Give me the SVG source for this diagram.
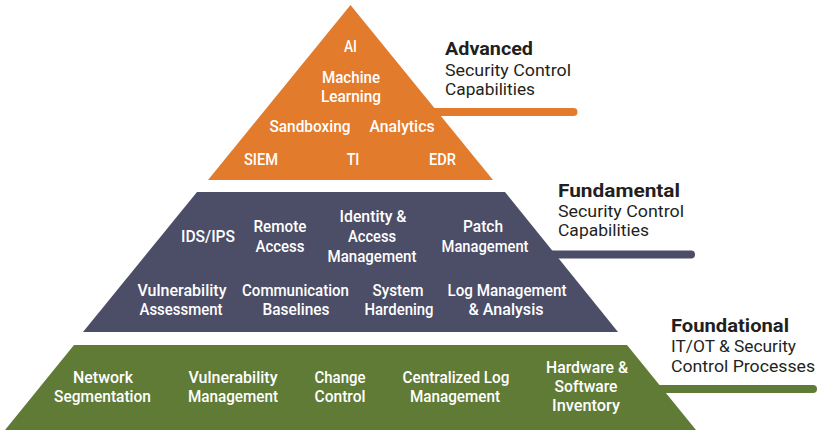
<svg xmlns="http://www.w3.org/2000/svg" width="819" height="430" viewBox="0 0 819 430">
<style>
.w{fill:#ffffff;font-family:Roboto,"Liberation Sans",sans-serif;font-weight:500;font-size:17px;text-anchor:middle}
.h{fill:#231f20;font-family:Roboto,"Liberation Sans",sans-serif;font-weight:700;font-size:18px}
.s{fill:#231f20;font-family:Roboto,"Liberation Sans",sans-serif;font-weight:400;font-size:16px}
.lk{fill:none;stroke-width:8;stroke-linecap:round}
</style>
<rect width="819" height="430" fill="#ffffff"/>
<g id="connectors">
<line class="lk" x1="430" y1="112" x2="573.5" y2="112" stroke="#e27b2b" stroke-width="7"/>
<line class="lk" x1="540" y1="254.5" x2="691" y2="254.5" stroke="#4c4d66"/>
<line class="lk" x1="660" y1="389" x2="813" y2="389" stroke="#607b36"/>
</g>
<g id="advanced">
<polygon points="350.5,5 493,180 208,180" fill="#e27b2b"/>
<text class="w" x="350.5" y="52" textLength="13" lengthAdjust="spacingAndGlyphs">AI</text>
<text class="w" x="351" y="83" textLength="58" lengthAdjust="spacingAndGlyphs">Machine</text>
<text class="w" x="351" y="102" textLength="60" lengthAdjust="spacingAndGlyphs">Learning</text>
<text class="w" x="310" y="132" textLength="81" lengthAdjust="spacingAndGlyphs">Sandboxing</text>
<text class="w" x="402" y="132" textLength="65" lengthAdjust="spacingAndGlyphs">Analytics</text>
<text class="w" x="261" y="165" textLength="34" lengthAdjust="spacingAndGlyphs">SIEM</text>
<text class="w" x="353" y="165" textLength="12.7" lengthAdjust="spacingAndGlyphs">TI</text>
<text class="w" x="442.5" y="165" textLength="27" lengthAdjust="spacingAndGlyphs">EDR</text>
</g>
<g id="advanced-label">
<text class="h" x="445" y="55" textLength="88" lengthAdjust="spacingAndGlyphs">Advanced</text>
<text class="s" x="445" y="76" textLength="126" lengthAdjust="spacingAndGlyphs">Security Control</text>
<text class="s" x="445" y="95" textLength="90" lengthAdjust="spacingAndGlyphs">Capabilities</text>
</g>
<g id="fundamental">
<polygon points="197,192 505,192 618,332 83,332" fill="#4c4d66"/>
<text class="w" x="208" y="242" textLength="54" lengthAdjust="spacingAndGlyphs">IDS/IPS</text>
<text class="w" x="280" y="232" textLength="53" lengthAdjust="spacingAndGlyphs">Remote</text>
<text class="w" x="280" y="252" textLength="49" lengthAdjust="spacingAndGlyphs">Access</text>
<text class="w" x="373" y="222" textLength="67" lengthAdjust="spacingAndGlyphs">Identity &amp;</text>
<text class="w" x="372" y="242" textLength="48" lengthAdjust="spacingAndGlyphs">Access</text>
<text class="w" x="372" y="262" textLength="89" lengthAdjust="spacingAndGlyphs">Management</text>
<text class="w" x="483" y="232" textLength="40" lengthAdjust="spacingAndGlyphs">Patch</text>
<text class="w" x="485" y="252" textLength="87" lengthAdjust="spacingAndGlyphs">Management</text>
<text class="w" x="182" y="296" textLength="89" lengthAdjust="spacingAndGlyphs">Vulnerability</text>
<text class="w" x="181" y="315" textLength="83" lengthAdjust="spacingAndGlyphs">Assessment</text>
<text class="w" x="295.5" y="296" textLength="107" lengthAdjust="spacingAndGlyphs">Communication</text>
<text class="w" x="296" y="315" textLength="67" lengthAdjust="spacingAndGlyphs">Baselines</text>
<text class="w" x="398" y="296" textLength="51" lengthAdjust="spacingAndGlyphs">System</text>
<text class="w" x="399" y="315" textLength="69" lengthAdjust="spacingAndGlyphs">Hardening</text>
<text class="w" x="507" y="296" textLength="119" lengthAdjust="spacingAndGlyphs">Log Management</text>
<text class="w" x="506" y="315" textLength="75" lengthAdjust="spacingAndGlyphs">&amp; Analysis</text>
</g>
<g id="fundamental-label">
<text class="h" x="558" y="197" textLength="122" lengthAdjust="spacingAndGlyphs">Fundamental</text>
<text class="s" x="558" y="217" textLength="126" lengthAdjust="spacingAndGlyphs">Security Control</text>
<text class="s" x="558" y="236" textLength="91" lengthAdjust="spacingAndGlyphs">Capabilities</text>
</g>
<g id="foundational">
<polygon points="74,345 627,345 696,430 5,430" fill="#607b36"/>
<text class="w" x="103" y="383" textLength="60" lengthAdjust="spacingAndGlyphs">Network</text>
<text class="w" x="102.5" y="402" textLength="97" lengthAdjust="spacingAndGlyphs">Segmentation</text>
<text class="w" x="233" y="383" textLength="89" lengthAdjust="spacingAndGlyphs">Vulnerability</text>
<text class="w" x="233" y="402" textLength="90" lengthAdjust="spacingAndGlyphs">Management</text>
<text class="w" x="340" y="383" textLength="51" lengthAdjust="spacingAndGlyphs">Change</text>
<text class="w" x="340" y="402" textLength="51" lengthAdjust="spacingAndGlyphs">Control</text>
<text class="w" x="456" y="383" textLength="107" lengthAdjust="spacingAndGlyphs">Centralized Log</text>
<text class="w" x="455" y="402" textLength="90" lengthAdjust="spacingAndGlyphs">Management</text>
<text class="w" x="587" y="373" textLength="82" lengthAdjust="spacingAndGlyphs">Hardware &amp;</text>
<text class="w" x="586" y="392" textLength="63" lengthAdjust="spacingAndGlyphs">Software</text>
<text class="w" x="586" y="411" textLength="68" lengthAdjust="spacingAndGlyphs">Inventory</text>
</g>
<g id="foundational-label">
<text class="h" x="671" y="332" textLength="118" lengthAdjust="spacingAndGlyphs">Foundational</text>
<text class="s" x="671" y="352" textLength="125" lengthAdjust="spacingAndGlyphs">IT/OT &amp; Security</text>
<text class="s" x="671" y="372" textLength="144" lengthAdjust="spacingAndGlyphs">Control Processes</text>
</g>
</svg>
